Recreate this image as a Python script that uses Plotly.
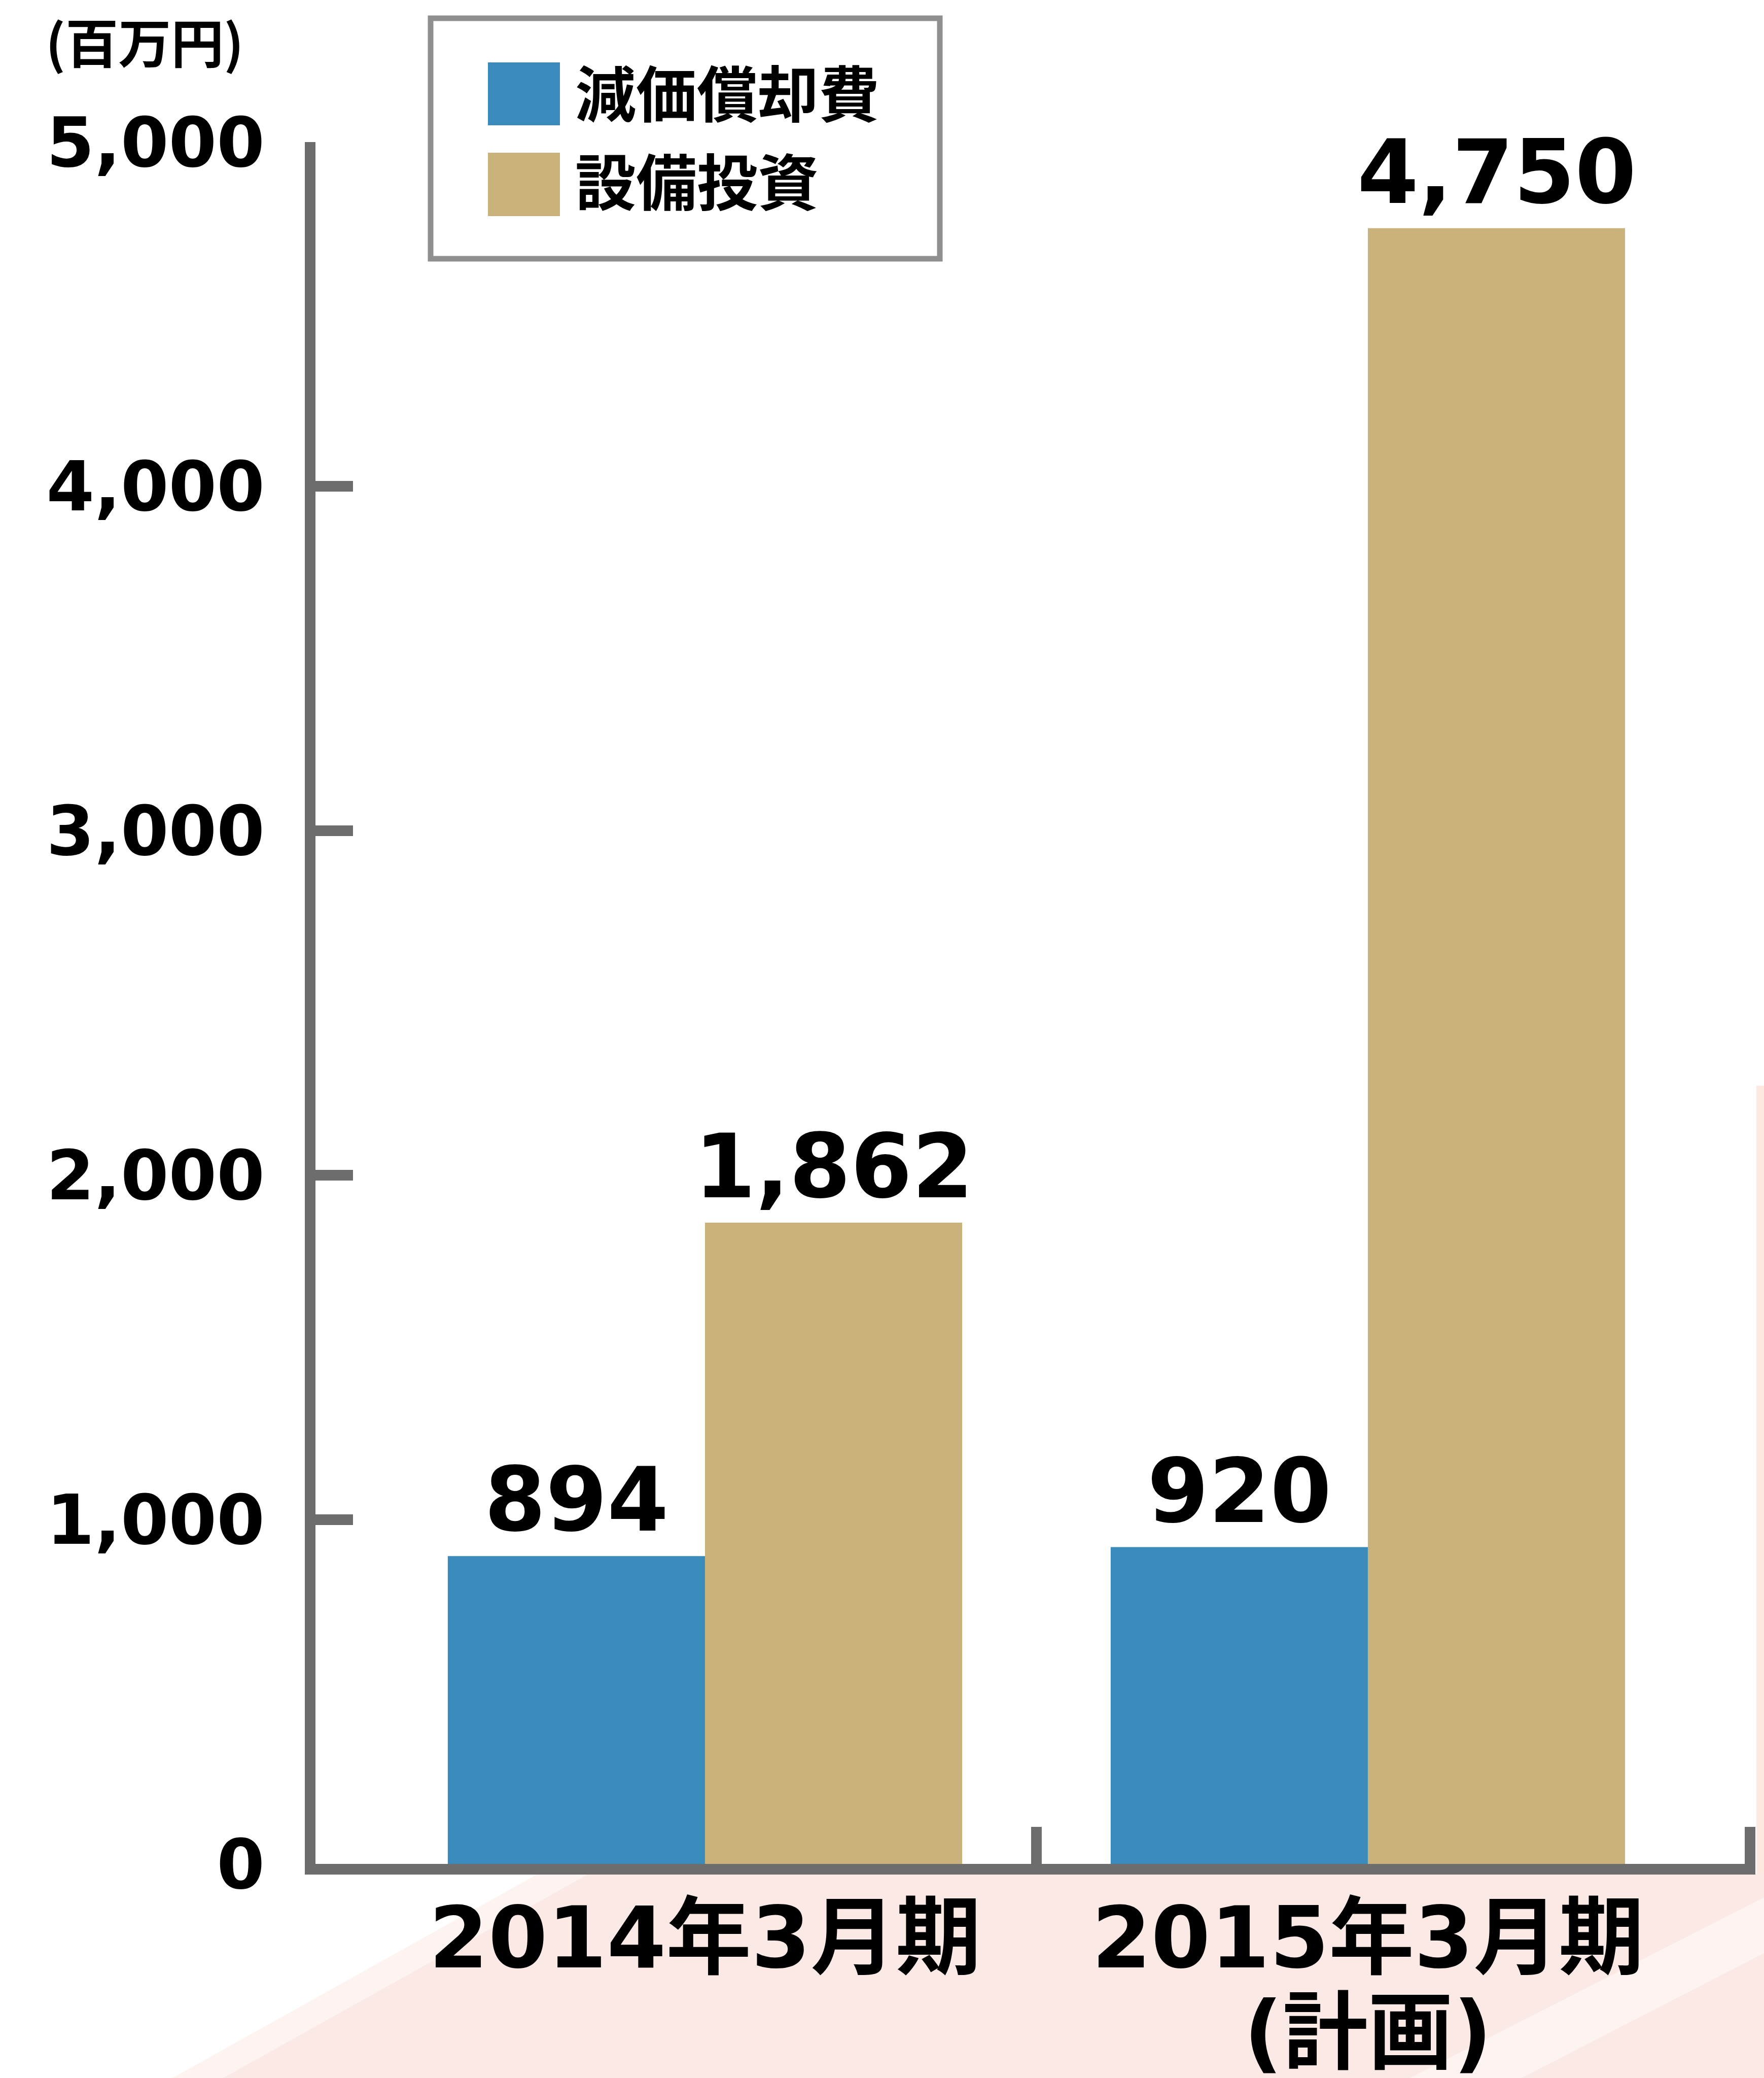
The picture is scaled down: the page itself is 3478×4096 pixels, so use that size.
import plotly.graph_objects as go

# ---- data -------------------------------------------------------------
periods = ["2014年3月期", "2015年3月期"]
period_notes = ["", "(計画)"]
series_names = ["減価償却費", "設備投資"]
depreciation = [894, 920]          # 減価償却費 (百万円)
capex = [1862, 4750]               # 設備投資 (百万円)
y_ticks = [0, 1000, 2000, 3000, 4000, 5000]
y_tick_text = ["0", "1,000", "2,000", "3,000", "4,000", "5,000"]
unit_label = "(百万円)"

# ---- styling ----------------------------------------------------------
W, H = 3478, 4096
L, R, T, B = 622, 17, 280, 422
BLUE = "#3a8bbb"
TAN = "#c9b27b"
AXIS = "#6d6d6d"
NUM_FONT = "DejaVu Sans, Noto Sans CJK JP, sans-serif"
JP_FONT = "Noto Sans CJK JP, DejaVu Sans, sans-serif"
LINE_W = 21
BAR_W = 0.388
X_RANGE = [-0.5876, 1.5846]
CAT_SIZE = 168

pw, ph = W - L - R, H - T - B


def px_x(px):
    return (px - L) / pw


def px_y(py):
    return (H - B - py) / ph


x_pos = list(range(len(periods)))


def category_label(main, note):
    span = f"<span style='font-size:{CAT_SIZE}px'>{{}}</span>"
    text = span.format(main)
    if note:
        text += "<br>" + span.format(note)
    return text


tick_labels = [category_label(m, n) for m, n in zip(periods, period_notes)]

fig = go.Figure()
fig.add_trace(go.Bar(x=x_pos, y=depreciation, name=series_names[0],
                     marker=dict(color=BLUE, line=dict(width=0)),
                     width=BAR_W, offset=-BAR_W, showlegend=False))
fig.add_trace(go.Bar(x=x_pos, y=capex, name=series_names[1],
                     marker=dict(color=TAN, line=dict(width=0)),
                     width=BAR_W, offset=0, showlegend=False))

# value labels above each bar
annotations = []
for vals, off in ((depreciation, -BAR_W), (capex, 0)):
    for xi, v in zip(x_pos, vals):
        annotations.append(dict(
            x=xi + off + BAR_W / 2, y=v, xref="x", yref="y",
            text=f"{v:,}", showarrow=False, yanchor="bottom", xanchor="center",
            yshift=7,
            font=dict(family=NUM_FONT, size=174, color="#000000", weight="bold")))

# unit label
annotations.append(dict(
    x=px_x(285), y=px_y(80), xref="paper", yref="paper", text=unit_label,
    showarrow=False, xanchor="center", yanchor="middle",
    font=dict(family=JP_FONT, size=104, color="#000000", weight="bold")))

# legend entries
legend_rows = [(series_names[0], BLUE, 123, 247, 179),
               (series_names[1], TAN, 301, 426, 353)]
shapes = []
# soft background tint behind the lower part of the page
shapes.append(dict(type="path", xref="paper", yref="paper", layer="below",
                   path=f"M {px_x(1160)},{px_y(3694)} L {px_x(W)},{px_y(3694)} "
                        f"L {px_x(W)},{px_y(H)} L {px_x(440)},{px_y(H)} Z",
                   fillcolor="rgba(245,195,185,0.22)", line=dict(width=0)))
shapes.append(dict(type="path", xref="paper", yref="paper", layer="below",
                   path=f"M {px_x(1060)},{px_y(3694)} L {px_x(W)},{px_y(3694)} "
                        f"L {px_x(W)},{px_y(H)} L {px_x(340)},{px_y(H)} Z",
                   fillcolor="rgba(245,195,185,0.18)", line=dict(width=0)))
shapes.append(dict(type="path", xref="paper", yref="paper", layer="below",
                   path=f"M {px_x(3478)},{px_y(3740)} L {px_x(W)},{px_y(3850)} "
                        f"L {px_x(3000)},{px_y(H)} L {px_x(2780)},{px_y(H)} Z",
                   fillcolor="rgba(255,255,255,0.45)", line=dict(width=0)))
shapes.append(dict(type="rect", xref="paper", yref="paper", layer="below",
                   x0=px_x(3463), x1=px_x(W), y0=px_y(3694), y1=px_y(2140),
                   fillcolor="rgba(250,200,175,0.40)", line=dict(width=0)))

# legend frame
shapes.append(dict(type="rect", xref="paper", yref="paper",
                   x0=px_x(849), x1=px_x(1853), y0=px_y(510), y1=px_y(36),
                   fillcolor="#ffffff", line=dict(color="#8f8f8f", width=11)))
for name, col, y0, y1, yc in legend_rows:
    shapes.append(dict(type="rect", xref="paper", yref="paper",
                       x0=px_x(962), x1=px_x(1104), y0=px_y(y1), y1=px_y(y0),
                       fillcolor=col, line=dict(width=0)))
    annotations.append(dict(
        x=px_x(1132), y=px_y(yc), xref="paper", yref="paper", text=name,
        showarrow=False, xanchor="left", yanchor="middle",
        font=dict(family=JP_FONT, size=120, color="#000000", weight="bold")))

# category separator tick and closing tick on the baseline
for xv in (0.5, X_RANGE[1]):
    shapes.append(dict(type="rect", xref="x", yref="y",
                       xsizemode="pixel", xanchor=xv,
                       x0=-LINE_W if xv == X_RANGE[1] else -LINE_W / 2,
                       x1=0 if xv == X_RANGE[1] else LINE_W / 2,
                       ysizemode="pixel", yanchor=0, y0=-LINE_W, y1=73,
                       fillcolor=AXIS, line=dict(width=0)))

fig.update_layout(
    width=W, height=H,
    margin=dict(l=L, r=R, t=T, b=B, pad=0, autoexpand=False),
    paper_bgcolor="#ffffff", plot_bgcolor="rgba(255,255,255,0)",
    barmode="overlay",
    shapes=shapes, annotations=annotations,
    xaxis=dict(range=X_RANGE, tickmode="array", tickvals=x_pos, ticktext=tick_labels,
               showline=True, linewidth=LINE_W, linecolor=AXIS, automargin=False,
               ticks="", showgrid=False, zeroline=False, fixedrange=True,
               ticklabelstandoff=10,
               tickfont=dict(family=NUM_FONT, size=144, color="#000000", weight="bold")),
    yaxis=dict(range=[0, 5000], tickmode="array", tickvals=y_ticks, ticktext=y_tick_text,
               showline=True, linewidth=LINE_W, linecolor=AXIS, automargin=False,
               ticks="inside", ticklen=74, tickwidth=LINE_W, tickcolor=AXIS,
               showgrid=False, zeroline=False, fixedrange=True,
               ticklabelstandoff=52,
               tickfont=dict(family=NUM_FONT, size=136, color="#000000", weight="bold")),
)

fig.write_html("out.html")
